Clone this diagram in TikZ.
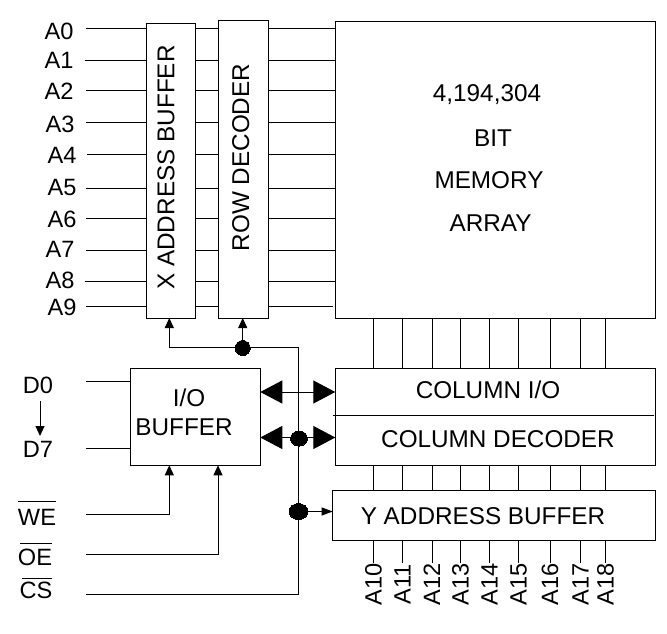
\documentclass[tikz,border=0pt]{standalone}
\usepackage{fontspec}
\setmainfont{Liberation Sans}
\usetikzlibrary{arrows.meta,shapes.geometric}
\tikzset{
  wire/.style={line width=1pt,draw=black},
  box/.style={draw=black,line width=1pt,inner sep=0pt,outer sep=0pt,anchor=north west},
  lbl/.style={inner sep=0pt,outer sep=0pt,font=\fontsize{24.3}{28}\selectfont},
  pin/.style={inner sep=0pt,outer sep=0pt,font=\fontsize{23.6}{28}\selectfont},
  dot/.style={ellipse,fill=black,draw=black,line width=0pt,inner sep=0pt,outer sep=0pt},
  smallarrow/.style={wire,-{Triangle[length=10pt,width=9pt]}},
  bigarrow/.style={wire,{Triangle[length=22pt,width=23pt]}-{Triangle[length=22pt,width=23pt]}},
}
\begin{document}
\begin{tikzpicture}[x=1pt,y=-1pt]
\useasboundingbox (0,0) rectangle (667,634);
% boxes
\node[box,minimum width=48.8pt,minimum height=294.5pt] (xb) at (146.5,23.5) {};
\node[box,minimum width=50.5pt,minimum height=297pt] (rd) at (218,21) {};
\node[box,minimum width=320.4pt,minimum height=296pt] (mem) at (335.3,22) {};
\node[box,minimum width=130.3pt,minimum height=97.3pt] (io) at (130,368) {};
\node[box,minimum width=320.4pt,minimum height=97.5pt] (col) at (335.3,368) {};
\node[box,minimum width=323pt,minimum height=50pt] (yb) at (332.7,490) {};
% box labels
\node[lbl,rotate=90] (xbt) at (166,167.5) {X ADDRESS BUFFER};
\node[lbl,rotate=90] (rdt) at (240.7,157.5) {ROW DECODER};
\node[lbl] (m1) at (487,95) {4,194,304};
\node[lbl] (m2) at (493,137.7) {BIT};
\node[lbl] (m3) at (489,180) {MEMORY};
\node[lbl] (m4) at (490.5,223) {ARRAY};
\node[lbl] (io1) at (189,398) {I/O};
\node[lbl] (io2) at (184,427) {BUFFER};
\node[lbl] (c1) at (488,390) {COLUMN I/O};
\node[lbl] (c2) at (498,439) {COLUMN DECODER};
\node[lbl] (y1) at (483,516) {Y ADDRESS BUFFER};
% address pins A0..A9
\foreach \n/\tx/\ty/\sx/\ly in {0/59/31.7/86/29,1/59/60/84.5/60.5,2/59/91.7/86/90.7,3/60/124/86/122,4/62/155/87/154.7,5/62/187/86/188,6/62/219/86/218.5,7/60/249/86/250.7,8/60/280/84.5/281,9/62/307/86/306}{
  \node[pin] (a\n) at (\tx,\ty) {A\n};
  \coordinate (s\n) at (\sx,\ly);
  \draw[wire] (s\n) -- (s\n -| xb.west);
  \draw[wire] (s\n -| xb.east) -- (s\n -| rd.west);
  \ifnum\n<9
    \draw[wire] (s\n -| rd.east) -- (s\n -| mem.west);
  \else
    \coordinate (e9) at (333,306);
    \draw[wire] (s\n -| rd.east) -- (e9);
  \fi
}
% column lines and A10..A18
\foreach \n/\x in {10/373.5,11/402.5,12/432,13/460.5,14/489.5,15/518.5,16/550,17/580.5,18/605.5}{
  \draw[wire] (\x,0 |- mem.south) -- (\x,0 |- col.north);
  \draw[wire] (\x,0 |- col.south) -- (\x,0 |- yb.north);
  \node[pin,rotate=90] (a\n) at (\x,584) {A\n};
  \coordinate (t\n) at (\x,563);
  \draw[wire] (\x,0 |- yb.south) -- (t\n);
}
% divider
\coordinate (dl) at (333,415);
\coordinate (dr) at (654,415);
\draw[wire] (dl) -- (dr);
% data pins
\node[pin] (d0) at (38,385) {D0};
\node[pin] (d7) at (38,449) {D7};
\coordinate (da) at (40,401);
\coordinate (db) at (40,436);
\draw[smallarrow] (da) -- (db);
\coordinate (d0s) at (86,381.7);
\coordinate (d7s) at (86,448);
\draw[wire] (d0s) -- (d0s -| io.west);
\draw[wire] (d7s) -- (d7s -| io.west);
% control pins
\node[pin] (we) at (37,517) {WE};
\node[pin] (oe) at (35,557) {OE};
\node[pin] (cs) at (36,590.7) {CS};
\draw[wire] (18,501.7) -- (56,501.7);
\draw[wire] (20,543) -- (52,543);
\draw[wire] (22,578) -- (52,578);
\coordinate (wes) at (86,514);
\coordinate (oes) at (86,554);
\coordinate (css) at (86,594);
\coordinate (wei) at (169.3,465.3);
\coordinate (oei) at (218,465.3);
\draw[smallarrow] (wes) -| (wei);
\draw[smallarrow] (oes) -| (oei);
% bus
\coordinate (corner) at (298.5,347);
\coordinate (xin) at (169.3,347);
\coordinate (xtip) at (169.3,318);
\coordinate (rtip) at (242.7,318);
\node[dot,minimum width=15pt,minimum height=15pt] (j1) at (242.7,348) {};
\node[dot,minimum width=17pt,minimum height=15pt] (j2) at (299,438.5) {};
\node[dot,minimum width=19pt,minimum height=16pt] (j3) at (298.5,511.5) {};
\draw[wire] (xin) -- (corner) -- (corner |- css) -- (css);
\draw[smallarrow] (xin) -- (xtip);
\draw[smallarrow] (j1) -- (rtip);
\draw[wire,-{Triangle[length=11pt,width=8pt]}] (j3.center) -- (yb.west |- j3.center);
\coordinate (b1) at (260.3,392);
\coordinate (b2) at (335.3,392);
\coordinate (b3) at (260.3,437.5);
\coordinate (b4) at (335.3,437.5);
\draw[bigarrow] (b1) -- (b2);
\draw[bigarrow] (b3) -- (b4);
\end{tikzpicture}
\end{document}
